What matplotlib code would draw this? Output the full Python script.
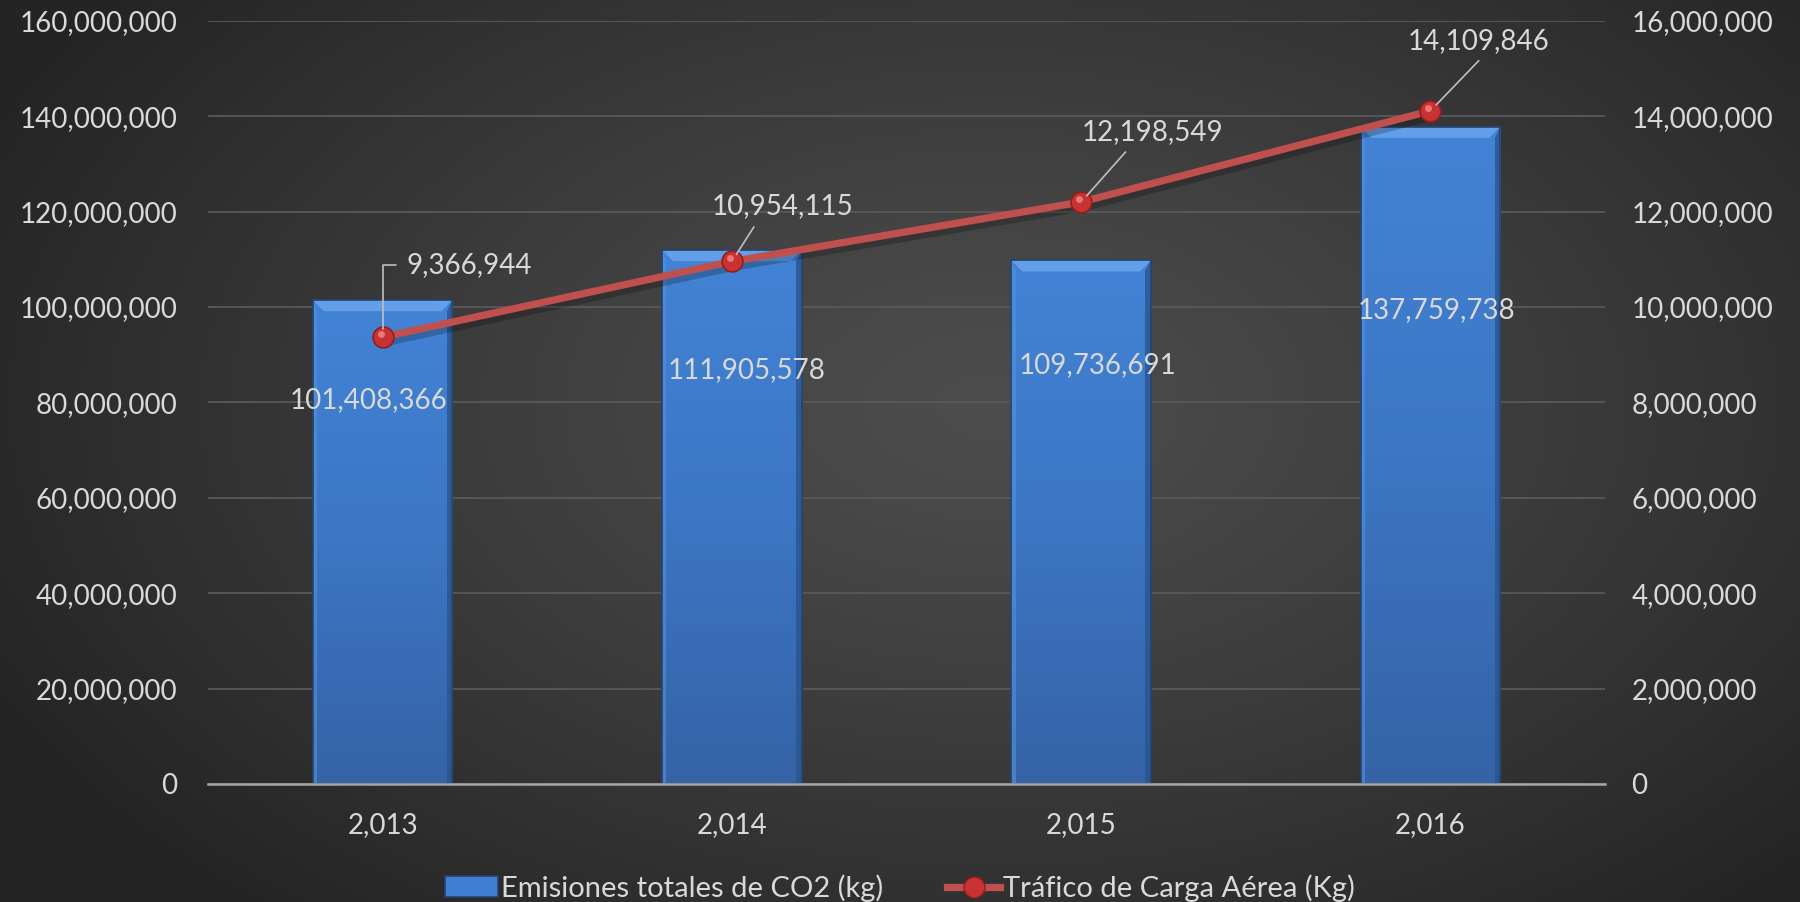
import numpy as np
import matplotlib
matplotlib.use("Agg")
import matplotlib.pyplot as plt
from matplotlib.patches import Rectangle, Polygon, Patch
from matplotlib.lines import Line2D
from matplotlib.colors import LinearSegmentedColormap
import matplotlib.patheffects as pe

# ---------------- data ----------------
years = ["2,013", "2,014", "2,015", "2,016"]
emisiones = [101408366, 111905578, 109736691, 137759738]
trafico = [9366944, 10954115, 12198549, 14109846]
left_ticks = [0, 20e6, 40e6, 60e6, 80e6, 100e6, 120e6, 140e6, 160e6]
right_ticks = [0, 2e6, 4e6, 6e6, 8e6, 10e6, 12e6, 14e6, 16e6]
bar_name = "Emisiones totales de CO2 (kg)"
line_name = "Tráfico de Carga Aérea (Kg)"

# label offsets in pixels (layout, not data)
bar_lbl_off = [(-14, -100), (15, -120), (16, -105), (6, -183)]
line_lbl_off = [(24, 72), (-20, 42), (1, 57), (-23, 57)]
line_lbl_rel = [(0.0, 0.5), (0.33, 0.0), (0.35, 0.0), (0.55, 0.0)]

plt.rcParams["font.family"] = ["Lato", "DejaVu Sans"]
TXT = "#d9d9d9"
FS = 20

W, H = 1800, 902
fig = plt.figure(figsize=(W / 100, H / 100), dpi=100)

# background radial gradient
bg = fig.add_axes([0, 0, 1, 1], zorder=-10)
yy, xx = np.mgrid[0:1:300j, 0:1:600j]
r = np.sqrt(((xx - 0.55) / 0.62) ** 2 + ((yy - 0.45) / 0.75) ** 2)
r = np.clip(r, 0, 1)
c0 = np.array([0x4d, 0x4d, 0x4d]) / 255
c1 = np.array([0x24, 0x24, 0x24]) / 255
img = c0[None, None, :] * (1 - r[..., None] ** 1.2) + c1[None, None, :] * (r[..., None] ** 1.2)
bg.imshow(img, extent=[0, 1, 0, 1], aspect="auto", origin="upper")
bg.set_axis_off()

ax = fig.add_axes([208 / W, 1 - 784 / H, (1605 - 208) / W, (784 - 20.7) / H])
ax.patch.set_alpha(0)
ax2 = ax.twinx()
ax2.patch.set_alpha(0)

x = np.arange(len(years))
bw = 0.4
ax.set_xlim(-0.5, len(years) - 0.5)
ax.set_ylim(0, 160e6)
ax2.set_ylim(0, 16e6)

# gridlines
ax.set_yticks(left_ticks)
ax.yaxis.grid(True, color="#595959", lw=1.3, zorder=0)
ax.set_axisbelow(True)

# bars with gradient + bevel
bar_cmap = LinearSegmentedColormap.from_list("b", ["#3563a6", "#3c76c4", "#4383d5"])
grad = np.linspace(0, 1, 256).reshape(-1, 1)
px_y = 160e6 / 763.3
px_x = 1.0 / 349.25
for xi, h in zip(x, emisiones):
    x0, x1 = xi - bw / 2, xi + bw / 2
    rect = Rectangle((x0, 0), bw, h, facecolor="none", edgecolor="#24446e", lw=1.2, zorder=3)
    ax.add_patch(rect)
    im = ax.imshow(grad, extent=[x0, x1, 0, h], origin="lower", aspect="auto",
                   cmap=bar_cmap, zorder=2)
    im.set_clip_path(rect)
    dh, dw = 11 * px_y, 11 * px_x
    ax.add_patch(Polygon([(x0, h), (x1, h), (x1 - dw, h - dh), (x0 + dw, h - dh)],
                         closed=True, facecolor="#6aa5ec", edgecolor="none", alpha=0.85, zorder=2.5))
    ax.add_patch(Polygon([(x1, h), (x1, 0), (x1 - dw * 0.5, 0), (x1 - dw * 0.5, h - dh)],
                         closed=True, facecolor="#2a5491", edgecolor="none", alpha=0.8, zorder=2.5))
    ax.add_patch(Polygon([(x0, h), (x0, 0), (x0 + dw * 0.4, 0), (x0 + dw * 0.4, h - dh)],
                         closed=True, facecolor="#5592dc", edgecolor="none", alpha=0.6, zorder=2.5))

for xi, h, off in zip(x, emisiones, bar_lbl_off):
    ax.annotate(f"{h:,}", (xi, h), xytext=off, textcoords="offset pixels",
                ha="center", va="center", color=TXT, fontsize=FS, zorder=6)

# line series
ax2.plot(x, trafico, color="#c0504d", lw=5.2, zorder=4, solid_capstyle="round",
         path_effects=[pe.SimpleLineShadow(offset=(2, -4), shadow_color="black", alpha=0.22),
                       pe.Normal()])
ax2.plot(x, trafico, ls="none", marker="o", ms=15, mfc="#c93232", mec="#8f1f1f", mew=1.2, zorder=5)
ax2.plot(x, trafico, ls="none", marker="o", ms=5, mfc="#f08a8a", mec="none", alpha=0.8, zorder=6,
         transform=ax2.transData + matplotlib.transforms.ScaledTranslation(-2 / 100, 3 / 100, fig.dpi_scale_trans))

for xi, v, off, rel in zip(x, trafico, line_lbl_off, line_lbl_rel):
    if rel[1] == 0.5:
        ax2.annotate(f"{v:,}", (xi, v), xytext=off, textcoords="offset pixels",
                     ha="left", va="center", color=TXT, fontsize=FS, zorder=7,
                     arrowprops=dict(arrowstyle="-", color="#bfbfbf", lw=1.2,
                                     connectionstyle="angle,angleA=0,angleB=90,rad=0",
                                     relpos=rel, shrinkA=6, shrinkB=6))
    else:
        ax2.annotate(f"{v:,}", (xi, v), xytext=off, textcoords="offset pixels",
                     ha="left", va="bottom", color=TXT, fontsize=FS, zorder=7,
                     arrowprops=dict(arrowstyle="-", color="#bfbfbf", lw=1.2,
                                     relpos=rel, shrinkA=4, shrinkB=6))

# axes styling
for a in (ax, ax2):
    for s in a.spines.values():
        s.set_visible(False)
    a.tick_params(length=0, colors=TXT, labelsize=FS)
ax.spines["bottom"].set_visible(True)
ax.spines["bottom"].set_color("#a6a6a6")
ax.spines["bottom"].set_linewidth(1.8)
ax.spines["bottom"].set_zorder(4)

ax.set_xticks(x)
ax.set_xticklabels(years)
ax.tick_params(axis="x", pad=20)
ax.set_yticklabels([f"{int(t):,}" for t in left_ticks])
ax.tick_params(axis="y", pad=22)
ax2.set_yticks(right_ticks)
ax2.set_yticklabels([f"{int(t):,}" for t in right_ticks])
ax2.tick_params(axis="y", pad=19)

# legend
handles = [Patch(facecolor="#3f7ed0", edgecolor="#24446e", lw=1.2),
           Line2D([0], [0], color="#c0504d", lw=5.2, marker="o", ms=15,
                  mfc="#c93232", mec="#8f1f1f")]
leg = fig.legend(handles, [bar_name, line_name], loc="center", bbox_to_anchor=(0.5, 1 - 888 / H),
                 ncol=2, frameon=False, fontsize=21, labelcolor=TXT,
                 handlelength=1.8, handletextpad=0.1, columnspacing=2.2, borderpad=0,
                 handleheight=0.7)

fig.savefig("out.png", dpi=100, facecolor=fig.get_facecolor())
